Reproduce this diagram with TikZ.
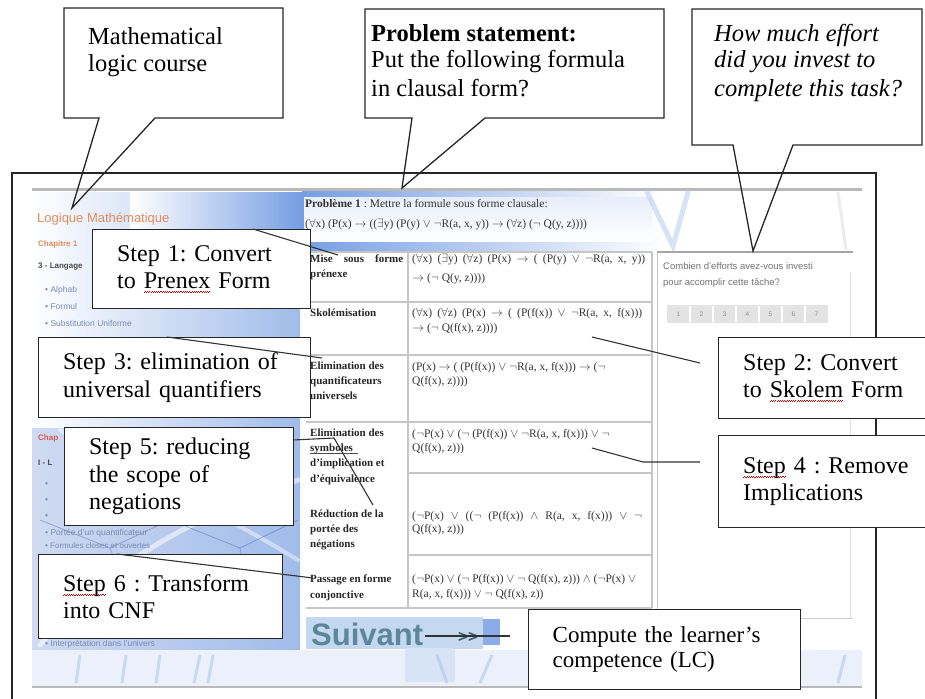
\documentclass[tikz,border=0pt]{standalone}
\usepackage{fontspec}
\setmainfont{Liberation Serif}
\setsansfont{Liberation Sans}
\usetikzlibrary{calc}

% red spell-check wave under a word, tiled from tiny offset rules
\newsavebox{\wavebox}
\newcommand\wavecell{\hbox{\rule[0pt]{1.1pt}{0.7pt}\rule[0.9pt]{1.1pt}{0.7pt}}}
\newcommand\spellwave[1]{\sbox{\wavebox}{#1}%
  \rlap{\raisebox{-4.5pt}{\color{red!80!black}\hbox to\wd\wavebox{\xleaders\wavecell\hfill}}}%
  \usebox{\wavebox}}

% logic symbols inside roman text
\newcommand{\qall}{$\forall$}
\newcommand{\qex}{$\exists$}
\newcommand{\qimp}{$\rightarrow$}
\newcommand{\qor}{$\vee$}
\newcommand{\qand}{$\wedge$}
\newcommand{\qneg}{$\neg$}

\definecolor{skyA}{RGB}{160,188,234}
\definecolor{skyB}{RGB}{196,212,242}
\definecolor{skyC}{RGB}{208,218,242}
\definecolor{hdrBlue}{RGB}{118,158,228}
\definecolor{orangeT}{RGB}{226,140,92}
\definecolor{redT}{RGB}{215,90,80}
\definecolor{gridGray}{RGB}{198,198,198}
\definecolor{suivTeal}{RGB}{92,134,156}
\definecolor{paleBlue}{RGB}{196,216,240}
\definecolor{sideTxt}{RGB}{120,140,178}
\definecolor{navyLine}{RGB}{40,70,140}
\definecolor{stripBg}{RGB}{236,240,250}

\tikzset{
  frameline/.style={draw=black!85, line width=1.4pt},
  callout/.style={draw=black!85, line width=1.3pt, line join=miter},
  stepbox/.style={draw=black!85, line width=1.3pt, fill=white, anchor=north west,
    inner xsep=24.5pt, inner ysep=0pt, align=left,
    font=\fontsize{24}{27.5}\selectfont},
  bigtxt/.style={anchor=base west, inner sep=0pt, font=\fontsize{24.5}{27.5}\selectfont},
  lead/.style={draw=black!80, line width=1.1pt},
  grid/.style={draw=gridGray, line width=1.2pt},
  tabtxt/.style={anchor=base west, inner sep=0pt, text=black!80,
    font=\fontsize{11.5}{13}\selectfont},
  tabhead/.style={anchor=base west, inner sep=0pt, text=black!85,
    font=\fontsize{11}{13}\selectfont\bfseries},
  side/.style={anchor=base west, inner sep=0pt, text=sideTxt,
    font=\sffamily\fontsize{8.5}{10}\selectfont},
  sidehead/.style={anchor=base west, inner sep=0pt,
    font=\sffamily\bfseries\fontsize{8}{9}\selectfont},
}

\begin{document}
\frenchspacing
\begin{tikzpicture}[x=1pt,y=-1pt]
\useasboundingbox (0,0) rectangle (925,698);
\clip (0,0) rectangle (925,698);
\fill[white] (0,0) rectangle (925,698);

% ================= web page screenshot =================
\fill[white] (32,188) rectangle (862,687);
\draw[gray!55, line width=2.5pt] (32,189.5) -- (862,189.5);

% sidebar washes
\shade[left color=white, right color=skyA] (32,192) rectangle (300,428);
\shade[left color=skyC, right color=skyA] (32,428) rectangle (300,652);
\draw[white, opacity=.55, line width=5pt, line cap=round] (40,645) .. controls (110,560) and (190,520) .. (298,480);
\draw[white, opacity=.45, line width=4pt, line cap=round] (60,430) .. controls (120,470) and (200,500) .. (298,560);
\draw[navyLine, opacity=.35, line width=.8pt] (40,520) -- (110,548) -- (170,520) -- (240,548) -- (298,520);
\draw[navyLine, opacity=.3, line width=.8pt] (110,548) -- (130,600) (240,548) -- (250,610);

% header band with problem statement
\shade[left color=white, right color=hdrBlue] (130,192) rectangle (302,250);
\shade[left color=hdrBlue, right color=white] (302,191) rectangle (665,250);
\shade[top color=skyB!40, bottom color=white] (304,197) rectangle (652,241);
\draw[skyA!70, line width=5pt, line cap=round, opacity=.6] (647,192) -- (673,246) -- (688,192);
\draw[gray!20, line width=3pt, opacity=.7] (838,192) -- (846,250);

\node[anchor=base west, inner sep=0pt, font=\fontsize{11.5}{13}\selectfont, text=black!80] (pb1) at (305,207)
  {\textbf{Problème 1} : Mettre la formule sous forme clausale:};
\node[anchor=base west, inner sep=0pt, font=\fontsize{11.5}{13}\selectfont, text=black!80] (pb2) at (305,227)
  {(\qall x) (P(x) \qimp{} ((\qex y) (P(y) \qor{} \qneg R(a, x, y)) \qimp{} (\qall z) (\qneg{} Q(y, z))))};

% transformation table
\fill[white] (306,252) rectangle (652,608);
\draw[grid] (306,252) -- (652,252);
\draw[grid] (306,302) -- (652,302);
\draw[grid] (306,355) -- (652,355);
\draw[grid] (306,422) -- (652,422);
\draw[grid] (408,473) -- (652,473);
\draw[grid] (408,555) -- (652,555);
\draw[grid] (306,608) -- (652,608);
\draw[grid] (408,252) -- (408,608);
\draw[grid] (652,252) -- (652,608);

\node[tabhead] (h1a) at (310,262) {\makebox[93pt][s]{Mise sous forme}};
\node[tabhead] (h1b) at (310,277) {prénexe};
\node[tabhead] (h2a) at (310,316) {Skolémisation};
\node[tabhead] (h3a) at (310,369) {Elimination des};
\node[tabhead] (h3b) at (310,384) {quantificateurs};
\node[tabhead] (h3c) at (310,399) {universels};
\node[tabhead] (h4a) at (310,436) {Elimination des};
\node[tabhead] (h4b) at (310,451) {symboles};
\draw[black!70, line width=.6pt] (310,453) -- (358,453);
\node[tabhead] (h4c) at (310,466) {d'implication et};
\node[tabhead] (h4d) at (310,482) {d'équivalence};
\node[tabhead] (h5a) at (310,517) {Réduction de la};
\node[tabhead] (h5b) at (310,532) {portée des};
\node[tabhead] (h5c) at (310,547) {négations};
\node[tabhead] (h6a) at (310,582) {Passage en forme};
\node[tabhead] (h6b) at (310,598) {conjonctive};

\node[tabtxt] (f1a) at (412,262) {\makebox[233pt][s]{(\qall x) (\qex y) (\qall z) (P(x) \qimp{} ( (P(y) \qor{} \qneg R(a, x, y))}};
\node[tabtxt] (f1b) at (412,281) {\qimp{} (\qneg{} Q(y, z))))};
\node[tabtxt] (f2a) at (412,316) {\makebox[230pt][s]{(\qall x) (\qall z) (P(x) \qimp{} ( (P(f(x)) \qor{} \qneg R(a, x, f(x)))}};
\node[tabtxt] (f2b) at (412,331) {\qimp{} (\qneg{} Q(f(x), z))))};
\node[tabtxt] (f3a) at (412,370) {(P(x) \qimp{} ( (P(f(x)) \qor{} \qneg R(a, x, f(x))) \qimp{} (\qneg};
\node[tabtxt] (f3b) at (412,384) {Q(f(x), z))))};
\node[tabtxt] (f4a) at (412,437) {(\qneg P(x) \qor{} (\qneg{} (P(f(x)) \qor{} \qneg R(a, x, f(x))) \qor{} \qneg};
\node[tabtxt] (f4b) at (412,451) {Q(f(x), z)))};
\node[tabtxt] (f5a) at (412,519) {\makebox[230pt][s]{(\qneg P(x) \qor{} ((\qneg{} (P(f(x)) \qand{} R(a, x, f(x))) \qor{} \qneg}};
\node[tabtxt] (f5b) at (412,532) {Q(f(x), z)))};
\node[tabtxt] (f6a) at (412,582) {(\qneg P(x) \qor{} (\qneg{} P(f(x)) \qor{} \qneg{} Q(f(x), z))) \qand{} (\qneg P(x) \qor};
\node[tabtxt] (f6b) at (412,597) {R(a, x, f(x))) \qor{} \qneg{} Q(f(x), z))};

% effort panel
\draw[gray!45, line width=1pt] (657,620) -- (657,252);
\draw[gray!70, line width=1.5pt] (657,252) -- (853,252);
\draw[gray!25, line width=1pt] (850,272) -- (850,618);
\draw[gray!40, line width=1pt] (657,618) -- (853,618);
\node[anchor=base west, inner sep=0pt, text=black!55, font=\sffamily\fontsize{9.5}{11}\selectfont] (ef1) at (663,269)
  {Combien d'efforts avez-vous investi};
\node[anchor=base west, inner sep=0pt, text=black!55, font=\sffamily\fontsize{9.5}{11}\selectfont] (ef2) at (663,285)
  {pour accomplir cette tâche?};
\fill[gray!22] (667,305) rectangle (828,323);
\foreach \k in {1,...,6} { \draw[white, line width=1.2pt] ({667+23*\k},306) -- ({667+23*\k},322); }
\foreach \k in {0,...,6} {
  \node[inner sep=0pt, text=black!45, font=\sffamily\fontsize{6.5}{7}\selectfont] (rate\k) at ({678.5+23*\k},314.5) {\the\numexpr\k+1\relax};
}

% next button
\fill[paleBlue] (306,617) rectangle (483,649);
\fill[hdrBlue!85] (483,619) rectangle (500,645);
\node[anchor=base west, inner sep=0pt, text=suivTeal, font=\sffamily\bfseries\fontsize{31}{31}\selectfont] (suiv) at (311,645) {Suivant};
\node[anchor=west, inner sep=0pt, text=suivTeal!70!black, font=\sffamily\bfseries\fontsize{17}{17}\selectfont] (suivarr) at (458,637) {>{}>};
\coordinate (suivend) at (425,636);

% bottom strip
\fill[stripBg] (32,650) rectangle (862,686);
\fill[paleBlue!70] (405,648) rectangle (455,682);
\foreach \xa/\xb in {80/76,126/122,160/156,200/194,213/208,437/447,492/480,845/838} {
  \draw[skyA, opacity=.45, line width=3pt] (\xa,655) -- (\xb,683);
}
\draw[gray!55, line width=2.5pt] (32,687) -- (862,687);

% sidebar menu (only the parts left uncovered by the step boxes)
\node[side, text=orangeT, font=\sffamily\fontsize{13}{14}\selectfont] (sb0) at (37,222) {Logique Mathématique};
\node[sidehead, text=orangeT] (sb1) at (38,246) {Chapitre 1};
\node[sidehead, text=black!70] (sb2) at (38,268) {3 - Langage};
\node[side] (sb3) at (45,292) {\textbullet\ Alphab};
\node[side] (sb4) at (45,309) {\textbullet\ Formul};
\node[side] (sb5) at (45,326) {\textbullet\ Substitution Uniforme};
\node[sidehead, text=redT] (sb6) at (38,440) {Chap};
\node[sidehead, text=black!70] (sb7) at (38,465) {I - L};
\node[side] (sb8) at (45,486) {\textbullet};
\node[side] (sb9) at (45,502) {\textbullet};
\node[side] (sb10) at (45,518) {\textbullet};
\node[side] (sb11) at (45,535) {\textbullet\ Portée d'un quantificateur};
\node[side, font=\sffamily\fontsize{8}{9}\selectfont] (sb12) at (45,548) {\textbullet\ Formules closes et ouvertes};
\node[side] (sb13) at (45,646) {\textbullet\ Interprétation dans l'univers};

% ================= outer frame =================
\draw[frameline] (12,705) -- (12,173) -- (876,173) -- (876,705);

% ================= top callouts =================
\draw[callout] (99,118) -- (72,208) -- (155,118) -- (283,118) -- (283,8) -- (64,8) -- (64,118) -- cycle;
\node[bigtxt] (c1a) at (88,45) {Mathematical};
\node[bigtxt] (c1b) at (88,72) {logic course};

\draw[callout] (412,118) -- (402,188) -- (485,118) -- (664,118) -- (664,9) -- (365,9) -- (365,118) -- cycle;
\node[bigtxt] (c2a) at (371,42) {\textbf{Problem statement:}};
\node[bigtxt] (c2b) at (371,68) {Put the following formula};
\node[bigtxt] (c2c) at (371,96) {in clausal form?};

\draw[callout] (733,145) -- (753,251) -- (793,145) -- (922,145) -- (922,9) -- (692,9) -- (692,145) -- cycle;
\node[bigtxt] (c3a) at (714,42) {\itshape How much effort};
\node[bigtxt] (c3b) at (714,68) {\itshape did you invest to};
\node[bigtxt] (c3c) at (714,97) {\itshape complete this task?};

% ================= step boxes =================
\node[stepbox, text width=169pt, minimum height=79pt] (s1) at (92,229)
  {\mbox{Step 1: Convert}\\\mbox{to \spellwave{Prenex} Form}};
\node[stepbox, text width=223pt, minimum height=80pt] (s3) at (38,337)
  {\mbox{Step 3: elimination of}\\\mbox{universal quantifiers}};
\node[stepbox, text width=180pt, minimum height=98pt] (s5) at (64,427)
  {\mbox{Step 5: reducing}\\\mbox{the scope of}\\\mbox{negations}};
\node[stepbox, text width=195pt, minimum height=84pt] (s6) at (38,554)
  {\mbox{\spellwave{Step} 6 : Transform}\\\mbox{into CNF}};
\node[stepbox, text width=163pt, minimum height=81pt] (s2) at (718,337)
  {\mbox{Step 2: Convert}\\\mbox{to \spellwave{Skolem} Form}};
\node[stepbox, text width=163pt, minimum height=92pt] (s4) at (718,435)
  {\mbox{\spellwave{Step} 4 : Remove}\\\mbox{Implications}};
\node[stepbox, inner xsep=24pt, text width=224pt, minimum height=80pt, font=\fontsize{23}{24.5}\selectfont] (lc) at (528,609)
  {\mbox{Compute the learner's}\\\mbox{competence (LC)}};

% ================= leader lines =================
\coordinate (s1o) at (253,229);
\coordinate (s1t) at (338,255);
\coordinate (s3o) at (167,337);
\coordinate (s3t) at (322,358);
\coordinate (s5o) at (293,440);
\coordinate (s5k) at (334,438);
\coordinate (s5t) at (373,505);
\coordinate (s6o) at (117,554);
\coordinate (s6t) at (313,578);
\coordinate (s2o) at (700,363);
\coordinate (s2t) at (592,337);
\coordinate (s4o) at (700,462);
\coordinate (s4k) at (643,462);
\coordinate (s4t) at (592,448);
\coordinate (lco) at (510,636);

\draw[lead] (s1o) -- (s1t);
\draw[lead] (s3o) -- (s3t);
\draw[lead] (s5o) -- (s5k) -- (s5t);
\draw[lead] (s6o) -- (s6t);
\draw[lead] (s2o) -- (s2t);
\draw[lead] (s4o) -- (s4k) -- (s4t);
\draw[lead] (lco) -- (suivend);
\end{tikzpicture}
\end{document}
